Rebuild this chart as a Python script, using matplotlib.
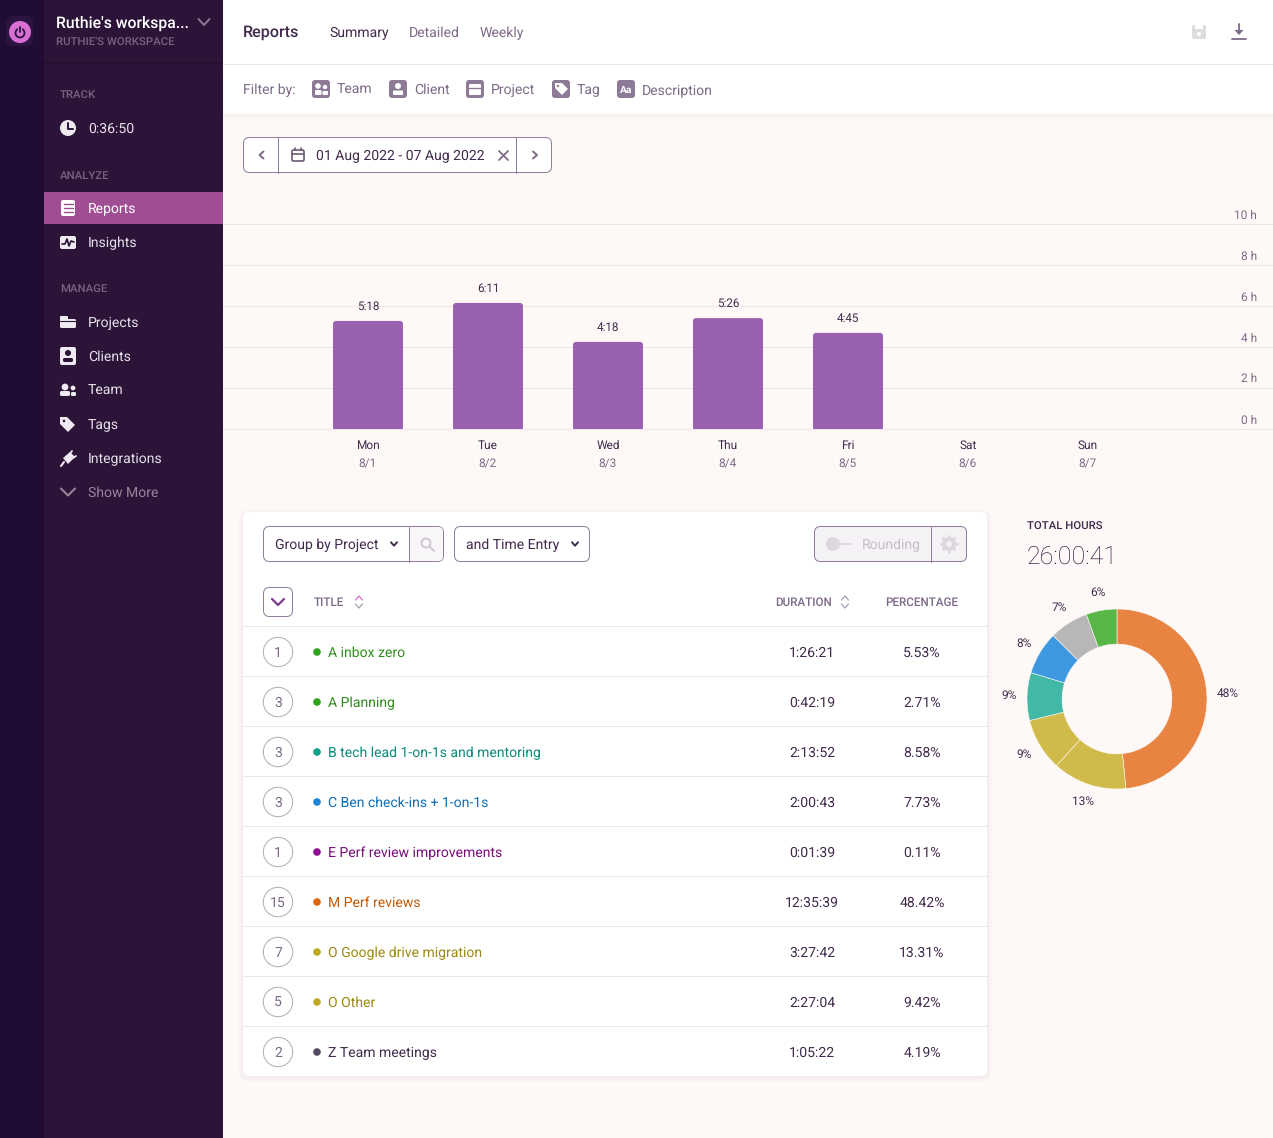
import math
import matplotlib
matplotlib.use('Agg')
import matplotlib.pyplot as plt
from matplotlib.patches import FancyBboxPatch, Circle, Rectangle, Polygon
from matplotlib.transforms import ScaledTranslation

plt.rcParams['font.family'] = ['Roboto', 'DejaVu Sans']
plt.rcParams['text.hinting'] = 'no_hinting'

W, H = 1273, 1138

# chart data
days = ['Mon', 'Tue', 'Wed', 'Thu', 'Fri', 'Sat', 'Sun']
dates = ['8/1', '8/2', '8/3', '8/4', '8/5', '8/6', '8/7']
day_hours = [5.27, 6.15, 4.25, 5.41, 4.69, 0, 0]
day_labels = ['5:18', '6:11', '4:18', '5:26', '4:45', '', '']
hour_ticks = [0, 2, 4, 6, 8, 10]

donut_share = [48.42, 13.31, 9.42, 8.58, 7.73, 7.01, 5.53]
donut_labels = ['48%', '13%', '9%', '9%', '8%', '7%', '6%']
donut_colors = ['#e98342', '#d0bb4a', '#d0bb4a', '#42b8a6', '#3e98e0', '#b7b7b7', '#58b647']

row_counts = [1, 3, 3, 3, 1, 15, 7, 5, 2]
row_titles = ['A inbox zero', 'A Planning', 'B tech lead 1-on-1s and mentoring', 'C Ben check-ins + 1-on-1s',
              'E Perf review improvements', 'M Perf reviews', 'O Google drive migration', 'O Other', 'Z Team meetings']
row_durations = ['1:26:21', '0:42:19', '2:13:52', '2:00:43', '0:01:39', '12:35:39', '3:27:42', '2:27:04', '1:05:22']
row_percents = ['5.53%', '2.71%', '8.58%', '7.73%', '0.11%', '48.42%', '13.31%', '9.42%', '4.19%']
row_text_colors = ['#2f8f1c', '#2f8f1c', '#0b8a78', '#0f6fb5', '#7a0f7a', '#c25a08', '#9c8913', '#9c8913', '#412a4c']
row_dot_colors = ['#2fa31a', '#2fa31a', '#0fa08c', '#1a86db', '#920f92', '#e0660f', '#c0aa22', '#c0aa22', '#54495e']

nav_track = ['0:36:50']
nav_analyze = ['Reports', 'Insights']
nav_manage = ['Projects', 'Clients', 'Team', 'Tags', 'Integrations', 'Show More']
tabs = ['Summary', 'Detailed', 'Weekly']
filters = ['Team', 'Client', 'Project', 'Tag', 'Description']

BG = '#fef9f7'
DARK = '#412a4c'
MUTED = '#7d6a88'
BORDER = '#8f7d9a'
LINE = '#ece8e8'
GRID = '#eee6e6'
NAV_TEXT = '#e6e0e9'
ICON = '#8c7a96'
THIN = 0.72

fig = plt.figure(figsize=(W / 100, H / 100), dpi=100, facecolor=BG)
ui = fig.add_axes([0, 0, 1, 1])
ui.set_xlim(0, W)
ui.set_ylim(H, 0)
ui.axis('off')


def box(x0, y0, x1, y1, r=0, fc='none', ec='none', lw=THIN, z=1, alpha=None):
    if r > 0:
        p = FancyBboxPatch((x0, y0), x1 - x0, y1 - y0, boxstyle=f'round,pad=0,rounding_size={r}',
                           fc=fc, ec=ec, lw=lw, zorder=z, alpha=alpha)
    else:
        p = Rectangle((x0, y0), x1 - x0, y1 - y0, fc=fc, ec=ec, lw=lw, zorder=z, alpha=alpha)
    ui.add_patch(p)


def line(xs, ys, color, lw=THIN, z=3):
    ui.plot(xs, ys, color=color, lw=lw, zorder=z, solid_capstyle='round', solid_joinstyle='round')


def txt(x, y, s, size=10.1, color=DARK, ha='left', weight='normal', z=5):
    return ui.text(x, y - 0.3, s, fontsize=size, color=color, ha=ha, va='center_baseline', fontweight=weight, zorder=z)


def chevron(x, y, w, h, color, lw=1.2, up=False):
    s = -1 if up else 1
    line([x - w, x, x + w], [y - s * h, y + s * h, y - s * h], color, lw)


def side_chevron(x, y, w, h, color, lw=1.2, left=True):
    s = -1 if left else 1
    line([x - s * w, x + s * w, x - s * w], [y - h, y, y + h], color, lw)


def sorter(x, y, up_color, down_color):
    chevron(x, y - 4, 3.5, 2, up_color, 0.9, up=True)
    chevron(x, y + 4, 3.5, 2, down_color, 0.9)


# backgrounds
box(0, 0, 44, H, fc='#210c33')
box(44, 0, 223, H, fc='#2c1338')
box(44, 62, 223, 64, fc='#26102f')
box(44, 192, 223, 224, fc='#a14d94')
box(223, 0, W, 114, fc='white')
box(223, 64, W, 65, fc=LINE, z=2)
for i in range(6):
    box(223, 114 + i, W, 115 + i, fc='#d8d0d0', alpha=0.22 - i * 0.035, z=2)

# rail logo
box(6, 16, 33, 46, r=6, fc='#2b1440')
ui.add_patch(Circle((20, 32), 11, fc='#d96fd3', zorder=3))
ui.add_patch(Circle((20, 33), 4.5, fc='none', ec='#2b1440', lw=1.3, zorder=4))
line([20, 20], [26, 32], '#d96fd3', 3, 4)
line([20, 20], [27, 32], '#2b1440', 1.3, 5)

# sidebar header
txt(56, 22, "Ruthie's workspa...", 11.3, 'white', weight='medium')
txt(56, 41, "RUTHIE'S WORKSPACE", 8.2, '#75637f', weight='medium')
chevron(204, 22, 5.5, 3, '#8c7a96', 1.4)

# sidebar menu
txt(60, 95, 'TRACK', 8.2, '#75637f', weight='medium')
txt(60, 175, 'ANALYZE', 8.2, '#75637f', weight='medium')
txt(60, 289, 'MANAGE', 8.2, '#75637f', weight='medium')
txt(88, 128, nav_track[0], 10.1, NAV_TEXT)
for i, name in enumerate(nav_analyze):
    txt(88, 208 + 34 * i, name, 10.1, 'white' if i == 0 else NAV_TEXT)
for i, name in enumerate(nav_manage):
    txt(88, 322 + 34 * i, name, 10.1, '#938699' if name == 'Show More' else NAV_TEXT)

ui.add_patch(Circle((68, 128), 8, fc='#efeaf1', zorder=3))
line([68, 68, 72.5], [123, 129, 129], '#2c1338', 1.4, 4)
box(61, 200, 75, 216, r=2, fc='white', z=3)
for yy in [204, 208, 212]:
    line([63.5, 72.5], [yy, yy], '#a14d94', 1, 4)
box(60, 236, 76, 249, r=2, fc='#efeaf1', z=3)
line([62, 65, 67, 69, 71, 74], [244, 244, 239, 246, 241, 242], '#2c1338', 1.2, 4)
box(60, 319, 76, 328, r=1.5, fc='#efeaf1', z=3)
box(60, 316, 68, 320, r=1, fc='#efeaf1', z=3)
line([60, 76], [320.5, 320.5], '#2c1338', 0.8, 4)
box(60, 347, 76, 365, r=2, fc='#efeaf1', z=3)
ui.add_patch(Circle((68, 353), 3, fc='#2c1338', zorder=4))
box(63, 358, 73, 362, r=1.5, fc='#2c1338', z=4)
ui.add_patch(Circle((65, 387), 3.4, fc='#efeaf1', zorder=3))
ui.add_patch(Circle((73, 388), 2.4, fc='#efeaf1', zorder=3))
box(60, 391, 70, 396, r=1.5, fc='#efeaf1', z=3)
box(71, 392, 76, 396, r=1.2, fc='#efeaf1', z=3)
ui.add_patch(Polygon([[60, 417], [67, 417], [75, 425], [68, 432], [60, 424]], fc='#efeaf1', zorder=3))
ui.add_patch(Circle((64, 421), 1.3, fc='#2c1338', zorder=4))
ui.add_patch(Polygon([[63, 458], [70, 452], [75, 457], [68, 464]], fc='#efeaf1', zorder=3))
line([61, 64], [466, 462], '#efeaf1', 1.5)
line([69, 72], [455, 451], '#efeaf1', 1.3)
line([73, 76], [458, 456], '#efeaf1', 1.3)
chevron(68, 492, 7, 3.5, '#938699', 1.5)

# top bar
txt(243, 31, 'Reports', 11.6, DARK, weight='medium')
for x, name, col in zip([329, 409, 480], tabs, [DARK, MUTED, MUTED]):
    txt(x, 32, name, 10.1, col)
box(1192, 25, 1206, 39, r=2, fc='#dedcdf', z=3)
box(1195, 25, 1203, 29, fc='white', z=4)
ui.add_patch(Circle((1199, 34), 2, fc='white', zorder=4))
line([1239, 1239], [24, 33], MUTED, 1.3)
ui.add_patch(Polygon([[1234.5, 30], [1243.5, 30], [1239, 35]], fc=MUTED, zorder=3))
line([1232, 1246], [38.5, 38.5], MUTED, 1.3)

# filter bar
txt(243, 89, 'Filter by:', 10.1, MUTED)
for x, name in zip([337, 414, 491, 577, 642], filters):
    txt(x, 89, name, 10.1, MUTED)
for x in [312, 389, 466, 552, 617]:
    box(x, 80, x + 18, 98, r=3, fc=ICON, z=3)
ui.add_patch(Circle((318, 86), 2.8, fc='white', zorder=4))
ui.add_patch(Circle((325, 87), 2.2, fc='white', zorder=4))
box(315, 90, 321.5, 95, r=1, fc='white', z=4)
box(322.5, 91, 328, 95, r=1, fc='white', z=4)
ui.add_patch(Circle((398, 86), 3, fc='white', zorder=4))
box(393, 90.5, 403, 95, r=1, fc='white', z=4)
box(469, 84, 481, 95, r=1, fc='white', z=4)
line([469, 481], [87.5, 87.5], ICON, 1, 5)
ui.add_patch(Polygon([[555, 83], [562, 83], [568, 89], [562, 95], [555, 88]], fc='white', zorder=4))
ui.add_patch(Circle((558, 86), 1.2, fc=ICON, zorder=5))
txt(626, 89.5, 'Aa', 7.4, 'white', ha='center', weight='bold')

# date picker
box(243.5, 137.5, 551.5, 172.5, r=6, fc='white', ec=BORDER, z=2)
line([278, 278], [137.5, 172.5], BORDER)
line([516, 516], [137.5, 172.5], BORDER)
side_chevron(261.5, 155, 2, 3.5, MUTED, 1.4)
side_chevron(535, 155, 2, 3.5, MUTED, 1.4, left=False)
box(292, 150, 304, 161, r=1.5, ec='#6b5a74', lw=1.2, z=3)
line([292, 304], [153.5, 153.5], '#6b5a74', 1.2)
line([295, 295], [147.5, 150], '#6b5a74', 1.2)
line([301, 301], [147.5, 150], '#6b5a74', 1.2)
txt(316, 155, '01 Aug 2022 - 07 Aug 2022', 10.1, DARK)
line([499, 508], [151, 160], MUTED, 1.3)
line([499, 508], [160, 151], MUTED, 1.3)

# table card
for i in range(5, 0, -1):
    box(243 - i, 512 - i + 2, 987 + i, 1076 + i + 1, r=6 + i, fc='#c8bcc0', alpha=0.035, z=1)
box(243, 512, 987, 1076, r=6, fc='white', z=1.5)

# card controls
box(263.5, 526.5, 443.5, 561.5, r=6, fc='white', ec=BORDER, z=2)
box(410, 527, 443, 561, r=5, fc='#f8f6f8', z=2.1)
box(410, 527, 420, 561, fc='#f8f6f8', z=2.1)
line([409, 409], [526.5, 561.5], BORDER)
txt(275, 544, 'Group by Project', 10.1, DARK)
chevron(394, 544, 3, 1.7, DARK, 1.4)
ui.add_patch(Circle((426, 543), 4.5, fc='none', ec='#cfc8d2', lw=1.4, zorder=4))
line([429.5, 434], [546.5, 551], '#cfc8d2', 1.4)
box(454.5, 526.5, 589.5, 561.5, r=6, fc='white', ec=BORDER, z=2)
txt(466, 544, 'and Time Entry', 10.1, DARK)
chevron(575, 544, 3, 1.7, DARK, 1.4)
box(814.5, 526.5, 966.5, 561.5, r=6, fc='#f4f2f5', ec=BORDER, z=2)
line([931, 931], [526.5, 561.5], BORDER)
ui.add_patch(Circle((833, 544), 7, fc='#dcd8de', zorder=4))
line([838, 851], [544, 544], '#dcd8de', 1.3)
txt(862, 544, 'Rounding', 10.1, '#c5bec9')
ui.add_patch(Circle((949, 544), 5, fc='none', ec='#dcd8de', lw=3, zorder=4))
for k in range(8):
    a = k * math.pi / 4
    line([949 + 5 * math.cos(a), 949 + 8 * math.cos(a)], [544 + 5 * math.sin(a), 544 + 8 * math.sin(a)], '#dcd8de', 2, 4)
box(263.5, 587.5, 292.5, 616.5, r=6, fc='white', ec=BORDER, z=2)
chevron(278, 602, 6, 3, '#7c3a8e', 1.6)

# table head
txt(314, 602, 'TITLE', 8.4, MUTED, weight='medium')
sorter(359, 602, '#d56fd0', '#a89bb0')
txt(775, 602, 'DURATION', 8.4, MUTED, weight='medium')
sorter(845, 602, '#a89bb0', '#a89bb0')
txt(958, 602, 'PERCENTAGE', 8.4, MUTED, ha='right', weight='medium')

# table rows
for i in range(len(row_titles)):
    y = 652 + 50 * i
    line([243, 987], [y - 26, y - 26], LINE, THIN, 2)
    ui.add_patch(Circle((278, y), 14.7, fc='white', ec='#b5aabb', lw=THIN, zorder=3))
    txt(278, y, str(row_counts[i]), 10.1, MUTED, ha='center')
    ui.add_patch(Circle((317, y), 3.8, fc=row_dot_colors[i], zorder=3))
    txt(328, y, row_titles[i], 10.1, row_text_colors[i])
    txt(812, y, row_durations[i], 10.1, DARK, ha='center')
    txt(922, y, row_percents[i], 10.1, DARK, ha='center')

# total hours
txt(1027, 526, 'TOTAL HOURS', 8.2, DARK, weight='medium')
txt(1027, 555, '26:00:41', 18, '#2a1238', weight='light')

# bar chart
ax = fig.add_axes([223 / W, (H - 429) / H, (W - 223) / W, 205 / H], facecolor='none')
ax.set_zorder(2)
bars = ax.bar(range(len(days)), day_hours, width=70 / 120, color='#9a62ae', zorder=3)
ax.bar_label(bars, labels=day_labels, padding=6.5, fontsize=8.4, color=DARK)
# web bars have slightly rounded tops, bottom corners fall below the axes and get clipped
for b in bars:
    if b.get_height() > 0:
        ax.add_patch(FancyBboxPatch((b.get_x(), -0.2), b.get_width(), b.get_height() + 0.2,
                                    boxstyle=f'round,pad=0,rounding_size={3 / 120}', mutation_aspect=120 / 20.5,
                                    fc='#9a62ae', ec='none', zorder=3, clip_on=True))
    b.set_visible(False)
ax.set_xlim((223 - 368) / 120, (W - 368) / 120)
ax.set_ylim(0, 10)
ax.set_yticks(hour_ticks)
ax.set_yticklabels([f'{v} h' for v in hour_ticks])
ax.yaxis.tick_right()
ax.tick_params(axis='y', length=0, pad=-11.5, labelsize=8.6, labelcolor=MUTED)
ax.set_xticks(range(len(days)))
ax.set_xticklabels(days)
ax.tick_params(axis='x', length=0, pad=8, labelsize=8.6, labelcolor=DARK)
for i, d in enumerate(dates):
    ax.annotate(d, (i, 0), xytext=(-0.5, -35), textcoords='offset pixels', ha='center', va='center',
                fontsize=8.6, color=MUTED, annotation_clip=False)
ax.grid(axis='y', color=GRID, lw=THIN, zorder=0)
for name in ['top', 'left', 'right']:
    ax.spines[name].set_visible(False)
ax.spines['bottom'].set_color(GRID)
ax.spines['bottom'].set_linewidth(THIN)
shift = ScaledTranslation(0, 10 / 100, fig.dpi_scale_trans)
for lab in ax.get_yticklabels():
    lab.set_ha('right')
    lab.set_transform(lab.get_transform() + shift)

# donut
pie_ax = fig.add_axes([(1117 - 112.5) / W, (H - 699 - 112.5) / H, 225 / W, 225 / H], facecolor='none')
pie_ax.set_zorder(2)
wedges, texts = pie_ax.pie(donut_share, labels=donut_labels, colors=donut_colors, startangle=90, counterclock=False,
                           labeldistance=1.2, radius=1,
                           wedgeprops={'width': 0.39, 'edgecolor': BG, 'linewidth': 0.4},
                           textprops={'fontsize': 8.6, 'color': DARK})
for t in texts:
    t.set_ha('center')
    t.set_va('center')
texts[0].set_x(texts[0].get_position()[0] * 1.03)
pie_ax.set_xlim(-1.25, 1.25)
pie_ax.set_ylim(-1.25, 1.25)

fig.savefig('out.png', dpi=100, facecolor=BG)
